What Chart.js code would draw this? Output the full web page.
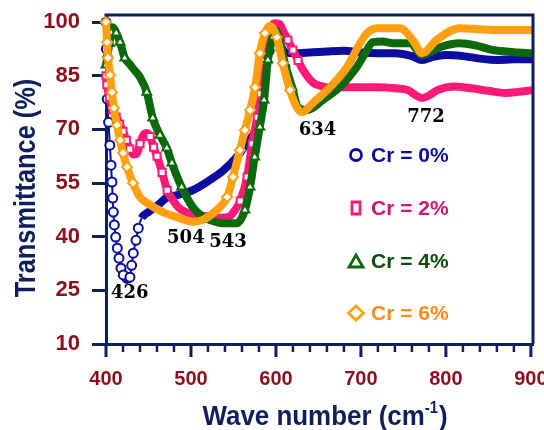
<!DOCTYPE html>
<html>
<head>
<meta charset="utf-8">
<script src="https://cdn.jsdelivr.net/npm/chart.js@4"></script>
<style>
    html, body { margin: 0; padding: 0; background: #fff; }
    canvas { display: block; }
</style>
</head>
<body>
<canvas id="ftirChart" width="544" height="430"></canvas>
<script>
// axis ticks
const xTicks = [400, 500, 600, 700, 800, 900];
const yTicks = [10, 25, 40, 55, 70, 85, 100];
const seriesNames = ["Cr = 0%", "Cr = 2%", "Cr = 4%", "Cr = 6%"];

// Cr = 0%
const cr0Wave = [400, 400.5, 401.5, 403, 404.5, 405.9, 407, 407.9, 408.6, 409.8, 411.4, 413.3, 415.3, 417.6, 420.4, 424.4, 428.2, 430.2, 432.1, 435.3, 438, 442, 449.8, 461, 471, 483, 502, 522, 538, 554, 561, 570, 578, 585, 592, 598, 604, 612, 620, 640, 660, 680, 700, 720, 740, 760, 772, 785, 800, 820, 840, 860, 880, 902];
const cr0Trans = [100, 92.5, 78.5, 72, 65.6, 60, 55.3, 50.8, 46.9, 43.3, 39.9, 36.8, 34, 31.2, 29.3, 27.9, 28.7, 32, 35.4, 39, 42.4, 45.2, 46.9, 48.8, 50.8, 51.6, 53, 55.8, 58.5, 62.3, 64.5, 67.5, 71, 82, 92, 96, 94, 91.5, 91.3, 91.5, 91.8, 92, 91.5, 91.3, 91.3, 90.5, 89.4, 90.3, 90.8, 90.5, 89.8, 89.4, 89.6, 89.6];

// Cr = 2%
const cr2Wave = [400, 401, 404, 408, 412, 416, 420, 424, 428, 432, 436, 440, 444, 448, 452, 456, 460, 466, 472, 478, 487, 495, 505, 515, 525, 535, 545, 552, 558, 566, 572, 578, 582, 587, 593, 599, 604, 608, 614, 620, 626, 632, 638, 644, 652, 660, 680, 700, 720, 740, 755, 765, 772, 780, 790, 810, 830, 850, 870, 885, 902];
const cr2Trans = [85, 82.5, 79, 75.5, 73.5, 71.5, 69.5, 67, 64.5, 63, 63.2, 66, 68.5, 69, 68, 65, 62.5, 58, 53, 50.5, 47.8, 46.8, 46.2, 45.8, 45.5, 45.3, 45.6, 47.5, 50, 56.7, 66, 73.4, 80, 89, 97.8, 99.7, 99.5, 97.8, 95, 92.2, 89.3, 86.6, 84.5, 83, 82.2, 81.8, 81.8, 81.8, 81.8, 81.5, 81, 79.5, 78.8, 79.5, 81, 82, 81.5, 80.8, 80.2, 80.5, 81];

// Cr = 4%
const cr4Wave = [400, 402, 404, 406, 408, 412, 416.5, 422, 427, 432, 440, 448, 455, 463.5, 471.5, 477.5, 489, 502, 514, 522, 537, 554, 563.5, 569.5, 575, 581, 586, 590.5, 596.5, 601, 606, 610.5, 619, 626, 636.5, 655, 675, 695, 705, 714, 725, 738, 758, 772, 793, 816, 835, 855, 880, 902];
const cr4Trans = [88, 91, 94, 97, 98.6, 97, 94.4, 90, 88.5, 87, 84.6, 80.4, 73.2, 68.4, 64.8, 60.6, 53.9, 48.3, 45.6, 44.7, 43.8, 43.8, 47.5, 53.9, 62.3, 70.7, 78.2, 89.4, 95.8, 97.5, 93, 88.5, 81.8, 76.2, 75.4, 78.2, 81.8, 87.4, 91.3, 94.4, 94.6, 94.1, 94.1, 90.8, 93, 94.1, 93.5, 92.2, 91.6, 91.3];

// Cr = 6%
const cr6Wave = [400, 401.2, 402.4, 404.7, 407, 409.4, 412.9, 416.5, 420, 424.7, 431.8, 440, 451.8, 467, 483.5, 502.5, 514, 530.5, 542.5, 549.5, 557.5, 563.5, 569.5, 575.5, 581, 587, 593, 601, 608, 616.5, 624.5, 630.5, 643.5, 663.5, 683.5, 699, 707, 719, 746, 761, 772, 789, 816.5, 840, 863.5, 885, 902];
const cr6Trans = [100, 94.4, 90, 85.2, 80.4, 76, 71.2, 67, 63.4, 59.5, 55, 51.1, 48.9, 46.9, 45.5, 44.2, 44.7, 47.5, 51.1, 56.7, 64.2, 69.8, 75.4, 81.8, 91.3, 96.9, 99, 95.8, 88.5, 81, 76.2, 74.8, 77.4, 81.8, 87.4, 94.1, 96.9, 98.3, 98.3, 95, 91.3, 95, 98.3, 98, 97.8, 97.8, 97.8];

// band labels (text, wave number, transmittance where the text sits)
const peakLabels = ["426", "504", "543", "634", "772"];
const peakWave = [428, 494, 543.5, 649, 776.5];
const peakTrans = [24.3, 39.6, 38.5, 69.8, 73.4];

const sans = '"Liberation Sans", Arial, sans-serif';
const navy = '#0f1f5c';
const tickRed = '#8c0f1e';
const lineColors = ['#0c0ca0', '#ff1a78', '#0b690b', '#ffa010'];
const textColors = ['#0c0ca0', '#d4137a', '#0b4d0b', '#ff8a1a'];
const pointStyles = ['circle', 'rect', 'triangle', 'rectRot'];

function toPoints(wave, trans) {
    return wave.map((w, i) => ({ x: w, y: trans[i] }));
}

function isSteep(data, i) {
    const a = data[Math.max(i - 1, 0)];
    const b = data[Math.min(i + 1, data.length - 1)];
    return Math.abs((b.y - a.y) / (b.x - a.x)) > 0.45;
}

function makeDataset(i, wave, trans) {
    const data = toPoints(wave, trans);
    const ds = {
        label: seriesNames[i],
        data: data,
        showLine: true,
        borderColor: lineColors[i],
        borderWidth: 8,
        cubicInterpolationMode: 'monotone',
        pointStyle: pointStyles[i],
        pointBackgroundColor: '#fff',
        pointBorderColor: lineColors[i],
        pointBorderWidth: 2,
        pointRadius: ctx => isSteep(data, ctx.dataIndex) ? (i === 0 ? 4.5 : 5) : 0,
        clip: false,
        order: 3 - i
    };
    if (i === 0) {
        // the sparse circles of the 0% curve are joined by a thin line
        ds.segment = {
            borderWidth: ctx => {
                const p0 = ctx.p0.parsed, p1 = ctx.p1.parsed;
                return Math.abs((p1.y - p0.y) / (p1.x - p0.x)) > 0.45 ? 2 : 8;
            }
        };
    }
    return ds;
}

function xTickValues() {
    const vals = [];
    for (let v = xTicks[0]; v <= xTicks[xTicks.length - 1]; v += 20) vals.push(v);
    return vals;
}

const decorations = {
    id: 'decorations',
    afterDraw(chart) {
        const { ctx, chartArea: a, scales: { x, y } } = chart;
        ctx.save();

        // frame: top and right
        ctx.strokeStyle = navy;
        ctx.lineWidth = 3;
        ctx.beginPath();
        ctx.moveTo(a.left - 1.5, a.top);
        ctx.lineTo(a.right, a.top);
        ctx.lineTo(a.right, a.bottom);
        ctx.stroke();

        // x tick marks, long on the hundreds
        x.ticks.forEach(t => {
            const px = x.getPixelForValue(t.value);
            const major = t.value % 100 === 0;
            ctx.lineWidth = major ? 3 : 2.5;
            ctx.beginPath();
            ctx.moveTo(px, a.bottom);
            ctx.lineTo(px, a.bottom + (major ? 13 : 8));
            ctx.stroke();
        });

        // band labels
        ctx.fillStyle = '#000';
        ctx.font = 'bold 18px "DejaVu Serif", serif';
        ctx.textAlign = 'center';
        ctx.textBaseline = 'middle';
        peakLabels.forEach((txt, i) => {
            ctx.fillText(txt, x.getPixelForValue(peakWave[i]), y.getPixelForValue(peakTrans[i]));
        });

        // legend
        const rows = [155, 208, 261, 313];
        ctx.textAlign = 'left';
        ctx.font = 'bold 21px ' + sans;
        seriesNames.forEach((name, i) => {
            const cy = rows[i], cx = 356;
            ctx.strokeStyle = lineColors[i];
            ctx.lineWidth = 2.8;
            ctx.beginPath();
            if (i === 0) ctx.arc(cx, cy, 5.5, 0, Math.PI * 2);
            if (i === 1) ctx.rect(cx - 4, cy - 6, 8, 12);
            if (i === 2) { ctx.moveTo(cx, cy - 6); ctx.lineTo(cx + 7, cy + 6); ctx.lineTo(cx - 7, cy + 6); ctx.closePath(); }
            if (i === 3) { ctx.moveTo(cx, cy - 7); ctx.lineTo(cx + 7.5, cy); ctx.lineTo(cx, cy + 7); ctx.lineTo(cx - 7.5, cy); ctx.closePath(); }
            ctx.stroke();
            ctx.fillStyle = textColors[i];
            ctx.fillText(name, 371, cy + 1);
        });

        // axis titles
        ctx.fillStyle = navy;
        ctx.textBaseline = 'alphabetic';
        ctx.save();
        ctx.translate(35, 188);
        ctx.rotate(-Math.PI / 2);
        ctx.scale(0.875, 1);
        ctx.textAlign = 'center';
        ctx.font = 'bold 29px ' + sans;
        ctx.fillText('Transmittance (%)', 0, 0);
        ctx.restore();

        ctx.save();
        const main = 'Wave number (cm', sup = '-1', close = ')';
        ctx.font = 'bold 28px ' + sans;
        const wMain = ctx.measureText(main).width, wClose = ctx.measureText(close).width;
        ctx.font = 'bold 16px ' + sans;
        const wSup = ctx.measureText(sup).width;
        const total = wMain + wSup + 1 + wClose;
        ctx.translate(325, 425);
        ctx.scale(0.926, 1);
        let px = -total / 2;
        ctx.textAlign = 'left';
        ctx.font = 'bold 28px ' + sans;
        ctx.fillText(main, px, 0);
        px += wMain;
        ctx.font = 'bold 16px ' + sans;
        ctx.fillText(sup, px, -12);
        px += wSup + 1;
        ctx.font = 'bold 28px ' + sans;
        ctx.fillText(close, px, 0);
        ctx.restore();

        ctx.restore();
    }
};

const ctx = document.getElementById('ftirChart').getContext('2d');
const ftirChart = new Chart(ctx, {
    type: 'scatter',
    data: {
        datasets: [
            makeDataset(0, cr0Wave, cr0Trans),
            makeDataset(1, cr2Wave, cr2Trans),
            makeDataset(2, cr4Wave, cr4Trans),
            makeDataset(3, cr6Wave, cr6Trans)
        ]
    },
    options: {
        responsive: false,
        animation: false,
        devicePixelRatio: 1,
        layout: { padding: { top: 15, right: 11, left: 0, bottom: 0 } },
        plugins: { legend: { display: false }, tooltip: { enabled: false } },
        scales: {
            x: {
                type: 'linear',
                min: 400,
                max: 902.5,
                afterBuildTicks: axis => { axis.ticks = xTickValues().map(v => ({ value: v })); },
                afterFit: axis => { axis.height = 86; axis.paddingLeft = 0; axis.paddingRight = 0; },
                grid: { display: true, drawOnChartArea: false, drawTicks: true, tickLength: 13, tickColor: 'rgba(0,0,0,0)' },
                border: { display: true, color: navy, width: 3 },
                ticks: {
                    autoSkip: false,
                    maxRotation: 0,
                    padding: 10,
                    color: tickRed,
                    font: { family: sans, size: 20, weight: 'bold' },
                    callback: v => v % 100 === 0 ? String(v) : ''
                }
            },
            y: {
                min: 10,
                max: 102,
                afterBuildTicks: axis => { axis.ticks = yTicks.map(v => ({ value: v })); },
                afterFit: axis => { axis.width = 106; axis.paddingTop = 0; axis.paddingBottom = 0; },
                grid: { display: true, drawOnChartArea: false, drawTicks: true, tickLength: 14, tickWidth: 3, tickColor: navy },
                border: { display: true, color: navy, width: 3 },
                ticks: {
                    padding: 12,
                    color: tickRed,
                    font: { family: sans, size: 22, weight: 'bold' }
                }
            }
        }
    },
    plugins: [decorations]
});
</script>
</body>
</html>
